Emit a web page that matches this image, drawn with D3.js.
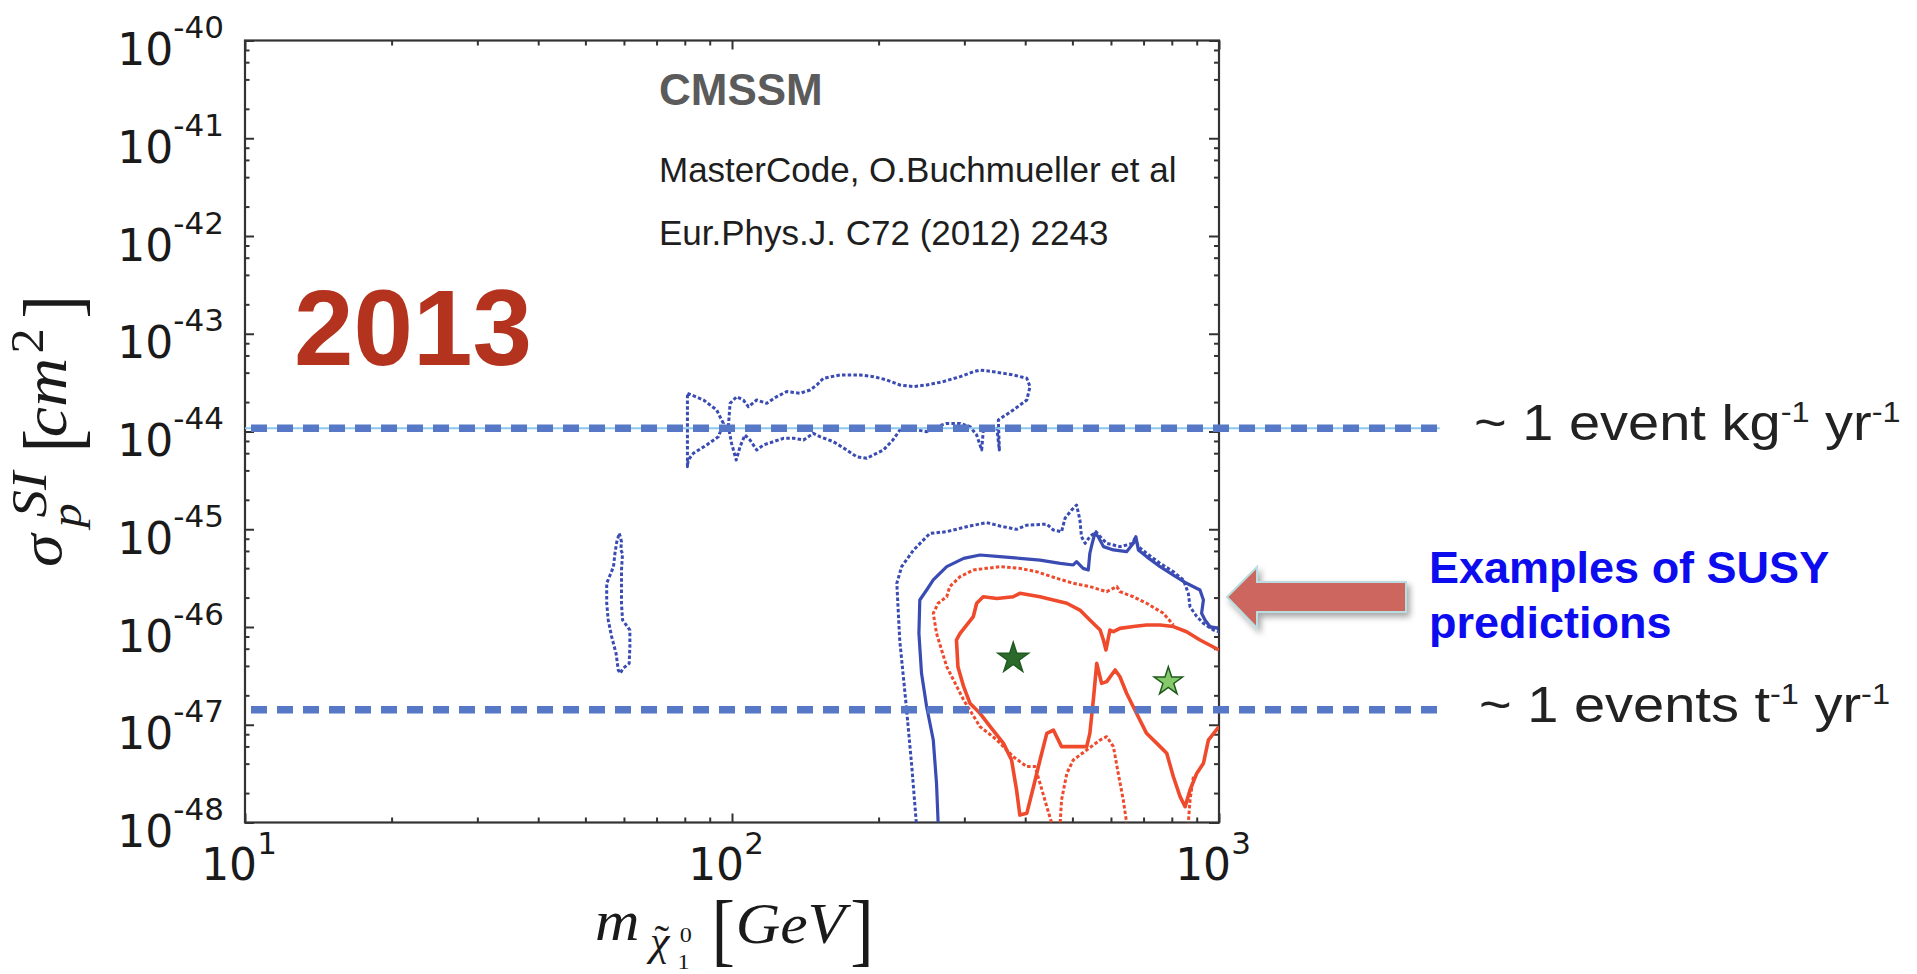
<!DOCTYPE html>
<html>
<head>
<meta charset="utf-8">
<script src="https://cdn.jsdelivr.net/npm/d3@7"></script>
<style>
  body { margin: 0; background: #fff; }
  svg { display: block; }
</style>
</head>
<body>
<div id="chart"></div>
<script>
// ---- data (mass in GeV, sigma in cm^2) ----
const massExponents = [1, 2, 3];
const sigmaExponents = [-40, -41, -42, -43, -44, -45, -46, -47, -48];
const xMinorFactors = [2, 3, 4, 5, 6, 7, 8, 9];
const yMinorFactors = [2, 4, 6, 8];

// dotted and solid contours
const blueDottedOuter = [
  [239, 1e-48], [234, 3.73e-48], [228, 1.53e-47], [221, 7.36e-47], [218, 2.80e-46], [223, 4.14e-46],
  [236, 6.14e-46], [255, 9.08e-46], [276, 9.44e-46], [303, 1.06e-45], [333, 1.17e-45], [355, 1.08e-45],
  [384, 9.98e-46], [403, 1.10e-45], [443, 1.13e-45], [457, 9.82e-46], [475, 9.44e-46], [483, 1.30e-45],
  [498, 1.57e-45], [510, 1.77e-45], [518, 1.25e-45], [522, 8.40e-46], [531, 7.18e-46], [543, 8.40e-46],
  [559, 9.44e-46], [570, 8.40e-46], [588, 7.18e-46], [626, 6.64e-46], [667, 7.18e-46], [672, 8.40e-46],
  [683, 6.64e-46], [710, 5.68e-46], [757, 4.48e-46], [806, 3.68e-46], [845, 3.03e-46], [865, 2.21e-46],
  [872, 1.61e-46], [900, 1.28e-46], [929, 1.09e-46], [974, 9.31e-47], [1000, 8.95e-47]
];

const blueSolid = [
  [265, 1e-48], [263, 2.52e-48], [259, 6.98e-48], [251, 1.53e-47], [245, 3.36e-47], [242, 8.61e-47],
  [243, 1.89e-46], [251, 2.39e-46], [259, 3.03e-46], [276, 4.14e-46], [299, 5.04e-46], [323, 5.45e-46],
  [355, 5.25e-46], [390, 5.04e-46], [429, 4.84e-46], [472, 4.48e-46], [502, 4.31e-46], [510, 4.66e-46],
  [526, 3.98e-46], [539, 3.83e-46], [543, 5.68e-46], [548, 6.90e-46], [556, 9.08e-46], [565, 8.40e-46],
  [579, 6.64e-46], [607, 6.14e-46], [646, 5.90e-46], [667, 7.18e-46], [675, 8.40e-46], [683, 6.14e-46],
  [710, 5.25e-46], [757, 4.14e-46], [806, 3.40e-46], [858, 2.80e-46], [914, 2.39e-46], [929, 1.89e-46],
  [921, 1.38e-46], [936, 1.18e-46], [958, 1.01e-46], [997, 9.68e-47]
];

const redDottedOuter = [
  [453, 1e-48], [443, 1.45e-48], [429, 2.52e-48], [419, 3.73e-48], [403, 3.73e-48], [378, 4.71e-48],
  [350, 6.98e-48], [323, 9.57e-48], [299, 1.79e-47], [276, 3.93e-47], [263, 8.61e-47], [259, 1.38e-46],
  [265, 1.75e-46], [276, 2.04e-46], [280, 2.59e-46], [294, 3.27e-46], [313, 3.83e-46], [333, 3.98e-46],
  [355, 4.14e-46], [390, 3.98e-46], [422, 3.68e-46], [464, 3.15e-46], [502, 2.80e-46], [543, 2.59e-46],
  [588, 2.30e-46], [617, 2.59e-46], [626, 2.30e-46], [667, 2.04e-46], [710, 1.75e-46], [769, 1.38e-46],
  [806, 1.05e-46]
];

const redDottedArch = [
  [472, 1e-48], [475, 1.70e-48], [487, 3.18e-48], [502, 4.36e-48], [535, 5.52e-48], [570, 6.98e-48],
  [588, 7.55e-48], [607, 5.97e-48], [621, 3.18e-48], [636, 1.70e-48], [646, 1e-48]
];

const redDottedTail = [[886, 2.94e-48], [872, 1.70e-48], [865, 1e-48]];

const redSolid = [
  [1000, 5.82e-47], [914, 7.36e-47], [858, 8.95e-47], [806, 1.01e-46], [757, 1.05e-46], [710, 1.05e-46],
  [667, 1.01e-46], [626, 9.68e-47], [607, 8.95e-47], [597, 9.31e-47], [586, 5.82e-47], [579, 7.36e-47],
  [570, 9.31e-47], [543, 1.18e-46], [518, 1.49e-46], [487, 1.75e-46], [457, 1.89e-46], [429, 2.04e-46],
  [390, 2.21e-46], [378, 2.04e-46], [350, 1.96e-46], [328, 2.04e-46], [318, 1.75e-46], [313, 1.28e-46],
  [294, 8.61e-47], [289, 7.36e-47], [291, 3.93e-47], [299, 2.45e-47], [308, 1.66e-47], [323, 1.31e-47],
  [339, 9.57e-48], [361, 6.45e-48], [375, 4.36e-48], [384, 2.15e-48], [390, 1.19e-48], [403, 1.24e-48],
  [416, 2.32e-48], [429, 4.36e-48], [443, 8.17e-48], [457, 8.83e-48], [475, 5.97e-48], [502, 5.97e-48],
  [535, 5.97e-48], [543, 8.17e-48], [552, 1.79e-47], [561, 4.25e-47], [574, 2.65e-47], [588, 2.76e-47],
  [612, 3.63e-47], [626, 3.10e-47], [646, 2.10e-47], [677, 1.31e-47], [710, 8.17e-48], [757, 5.97e-48],
  [781, 5.10e-48], [806, 2.94e-48], [832, 1.84e-48], [852, 1.45e-48], [872, 2.15e-48], [900, 3.18e-48],
  [929, 4.03e-48], [951, 6.98e-48], [1000, 9.57e-48]
];

const blueBlobD = [
  [81.0, 2.46e-44], [87.4, 2.10e-44], [93.0, 1.66e-44], [96.0, 1.21e-44], [93.8, 8.86e-45], [88.7, 7.28e-45],
  [83.3, 5.98e-45], [81.3, 5.11e-45], [81.0, 4.37e-45], [81.0, 2.46e-44]
];

const blueBlobMain = [
  [98.3, 1.12e-44], [99.1, 1.94e-44], [102.2, 2.27e-44], [105.5, 2.10e-44], [108.1, 1.79e-44], [112.4, 2.10e-44],
  [117.8, 1.94e-44], [123.5, 2.27e-44], [129.5, 2.56e-44], [138.0, 2.46e-44], [144.6, 2.66e-44], [149.3, 2.99e-44],
  [154.0, 3.50e-44], [166.7, 3.79e-44], [183, 3.79e-44], [195.1, 3.64e-44], [207.8, 3.37e-44], [221.3, 2.99e-44],
  [235.7, 2.88e-44], [251, 2.99e-44], [271.6, 3.24e-44], [294, 3.64e-44], [313.1, 4.09e-44], [323.1, 4.25e-44],
  [344, 4.09e-44], [378.2, 3.79e-44], [403, 3.50e-44], [409.2, 2.88e-44], [403, 2.10e-44], [378, 1.66e-44],
  [360.7, 1.42e-44], [352.3, 1.31e-44], [354.0, 6.47e-45], [349.5, 1.12e-44], [328.2, 1.04e-44], [325.6, 6.47e-45],
  [318.0, 9.21e-45], [308.2, 1.12e-44], [294, 1.21e-44], [276, 1.21e-44], [263.3, 1.12e-44], [251, 9.96e-45],
  [239.5, 1.04e-44], [228.5, 1.12e-44], [221.3, 1.04e-44], [214, 8.19e-45], [204.6, 6.47e-45], [189.1, 5.32e-45],
  [180.3, 5.52e-45], [172.0, 6.47e-45], [161.5, 7.87e-45], [151.6, 8.86e-45], [146.9, 9.57e-45], [140.2, 8.19e-45],
  [134, 8.51e-45], [127.5, 8.51e-45], [121.6, 7.87e-45], [116.0, 7.28e-45], [112.4, 6.47e-45], [108.9, 8.19e-45],
  [106.3, 9.21e-45], [103.9, 7.00e-45], [102.0, 5.11e-45], [99.8, 7.56e-45], [98.3, 1.12e-44]
];

const blueSmall = [
  [58.7, 9.08e-46], [59.3, 7.46e-46], [59.1, 6.14e-46], [59.6, 5.67e-46], [59.3, 3.83e-46], [59.3, 2.59e-46],
  [59.3, 1.75e-46], [59.6, 1.18e-46], [61.7, 9.31e-47], [61.7, 6.29e-47], [61.5, 4.25e-47], [59.8, 3.78e-47],
  [58.9, 3.36e-47], [58.4, 3.63e-47], [57.8, 5.38e-47], [56.6, 7.96e-47], [55.7, 1.18e-46], [55.3, 1.75e-46],
  [55.3, 2.80e-46], [56.2, 3.40e-46], [57.1, 4.14e-46], [57.5, 5.67e-46], [58.0, 7.46e-46], [58.7, 9.08e-46]
];

// best fit points
const starMass = [378, 787];
const starSigma = [4.78e-47, 2.76e-47];
const starFill = ["#2b6a2b", "#86c96a"];
const starSize = [290, 250];

// event-rate reference lines
const eventSigma = [1.08e-44, 1.42e-47];
const eventLineMass = [10, 2840];
const eventUnit = ["kg", "t"];
const eventWord = ["event", "events"];

// ---- layout ----
const W = 1917, H = 974;
const plot = {left: 245, right: 1219, top: 40.5, bottom: 822.5};

const svg = d3.select("#chart").append("svg")
  .attr("width", W).attr("height", H);
const defs = svg.append("defs");

const x = d3.scaleLog().domain([10, 1000]).range([plot.left, plot.right]);
const y = d3.scaleLog().domain([1e-48, 1e-40]).range([plot.bottom, plot.top]);

const line = d3.line().x(d => x(d[0])).y(d => y(d[1]));

defs.append("clipPath").attr("id", "plotclip")
  .append("rect")
  .attr("x", plot.left).attr("y", plot.top)
  .attr("width", plot.right - plot.left).attr("height", plot.bottom - plot.top);

// ticks on all four sides, pointing inward
const majorX = massExponents.map(e => Math.pow(10, e));
const minorX = [];
[10, 100].forEach(d => xMinorFactors.forEach(k => minorX.push(k * d)));
const majorY = sigmaExponents.map(e => Math.pow(10, e));
const minorY = [];
sigmaExponents.slice(1).forEach(e => yMinorFactors.forEach(k => minorY.push(k * Math.pow(10, e))));

function tickAxis(axis, values, size, transform) {
  const g = svg.append("g")
    .attr("transform", transform)
    .call(axis.tickValues(values).tickSize(size).tickFormat(""));
  g.select(".domain").remove();
  g.selectAll(".tick line").attr("stroke", "#333").attr("stroke-width", 2);
}

tickAxis(d3.axisBottom(x), majorX, -9, `translate(0,${plot.bottom})`);
tickAxis(d3.axisBottom(x), minorX, -5, `translate(0,${plot.bottom})`);
tickAxis(d3.axisTop(x), majorX, -9, `translate(0,${plot.top})`);
tickAxis(d3.axisTop(x), minorX, -5, `translate(0,${plot.top})`);
tickAxis(d3.axisLeft(y), majorY, -9, `translate(${plot.left},0)`);
tickAxis(d3.axisLeft(y), minorY, -4.5, `translate(${plot.left},0)`);
tickAxis(d3.axisRight(y), majorY, -10, `translate(${plot.right},0)`);
tickAxis(d3.axisRight(y), minorY, -5, `translate(${plot.right},0)`);

svg.append("rect")
  .attr("x", plot.left).attr("y", plot.top)
  .attr("width", plot.right - plot.left).attr("height", plot.bottom - plot.top)
  .attr("fill", "none").attr("stroke", "#333").attr("stroke-width", 2.2);

// tick labels 10^n
const tickFont = "DejaVu Sans";
sigmaExponents.forEach(e => {
  const t = svg.append("text")
    .attr("x", 224).attr("y", y(Math.pow(10, e)) + 24.5)
    .attr("text-anchor", "end")
    .attr("font-family", tickFont).attr("fill", "#1a1a1a");
  t.append("tspan").attr("font-size", 44).text("10");
  t.append("tspan").attr("font-size", 31).attr("dy", -27).text(String(e));
});
massExponents.forEach(e => {
  const t = svg.append("text")
    .attr("x", x(Math.pow(10, e)) - 6).attr("y", plot.bottom + 57.5)
    .attr("text-anchor", "middle")
    .attr("font-family", tickFont).attr("fill", "#1a1a1a");
  t.append("tspan").attr("font-size", 44).text("10");
  t.append("tspan").attr("font-size", 31).attr("dy", -26).text(e);
});

// axis titles: math-style pieces, slightly stretched along the text direction
const serif = "Liberation Serif";
function mathLabel(base, parts) {
  const g = svg.append("g").attr("transform", base)
    .attr("font-family", serif).attr("fill", "#1a1a1a");
  parts.forEach(p => {
    const [str, px, py, size, italic, sy] = p;
    g.append("text")
      .attr("transform", `translate(${px},${py}) scale(1,${sy || 1})`)
      .attr("font-size", size)
      .attr("font-style", italic ? "italic" : "normal")
      .text(str);
  });
}
mathLabel("translate(63,567) rotate(-90) scale(1.1,1)", [
  ["σ", 0, -2, 60, true],
  ["p", 36, 18, 44, true],
  ["SI", 45, -17, 50, true],
  ["[", 104, 16, 64, false, 1.25],
  ["cm", 118, 3, 62, true],
  ["2", 194, -20, 46, false],
  ["]", 226, 16, 64, false, 1.25]
]);
mathLabel("translate(595,940) scale(1.1,1)", [
  ["m", 0, 0, 56, true],
  ["χ", 50, 15, 40, true],
  ["˜", 54, 13, 40, false],
  ["0", 77, 2, 22, false],
  ["1", 75, 29, 22, false],
  ["[", 106, 16, 64, false, 1.25],
  ["GeV", 128, 3, 56, true],
  ["]", 232, 16, 64, false, 1.25]
]);

// contours
const contours = svg.append("g").attr("clip-path", "url(#plotclip)")
  .attr("fill", "none").attr("stroke-linejoin", "round");

const blue = "#3a4cb3", red = "#ef4a2c";
[blueDottedOuter, blueBlobD, blueBlobMain, blueSmall].forEach(d => {
  contours.append("path").datum(d).attr("d", line)
    .attr("stroke", blue).attr("stroke-width", 3).attr("stroke-dasharray", "3.5,2.2");
});
contours.append("path").datum(blueSolid).attr("d", line)
  .attr("stroke", blue).attr("stroke-width", 3.2);
[redDottedOuter, redDottedArch, redDottedTail].forEach(d => {
  contours.append("path").datum(d).attr("d", line)
    .attr("stroke", red).attr("stroke-width", 3).attr("stroke-dasharray", "3.5,2.2");
});
contours.append("path").datum(redSolid).attr("d", line)
  .attr("stroke", red).attr("stroke-width", 3.6);

// stars
starMass.forEach((m, i) => {
  svg.append("path")
    .attr("d", d3.symbol(d3.symbolStar, starSize[i])())
    .attr("transform", `translate(${x(m)},${y(starSigma[i])})`)
    .attr("fill", starFill[i]).attr("stroke", "#1f5a1f").attr("stroke-width", 1.5);
});

// event-rate lines
const hline = d3.line().x(d => x(d)).y(() => 0);
eventSigma.forEach((s, i) => {
  const g = svg.append("g").attr("transform", `translate(0,${y(s)})`);
  if (i === 0) {
    g.append("path").attr("d", hline(eventLineMass))
      .attr("stroke", "#8cc8ee").attr("stroke-width", 2);
  }
  g.append("path").attr("d", hline(eventLineMass))
    .attr("stroke", "#5678c6").attr("stroke-width", 7.5)
    .attr("stroke-dasharray", "16,10").attr("stroke-dashoffset", -6);

  const t = svg.append("text")
    .attr("transform", `translate(${i === 0 ? 1474 : 1479},${y(s) + 12}) scale(1.12,1)`)
    .attr("font-family", "Liberation Sans").attr("font-size", 50).attr("fill", "#222");
  t.append("tspan").text(`~ 1 ${eventWord[i]} ${eventUnit[i]}`);
  t.append("tspan").attr("font-size", 29).attr("dy", -18).text("-1");
  t.append("tspan").attr("dy", 18).text(" yr");
  t.append("tspan").attr("font-size", 29).attr("dy", -18).text("-1");
});

// in-plot annotations
svg.append("text").attr("x", 294).attr("y", 365)
  .attr("font-family", "Liberation Sans").attr("font-weight", "bold")
  .attr("font-size", 107).attr("fill", "#b3331f").text("2013");
svg.append("text").attr("x", 659).attr("y", 105)
  .attr("font-family", "Liberation Sans").attr("font-weight", "bold")
  .attr("font-size", 44).attr("fill", "#5b5b5b").text("CMSSM");
svg.append("text").attr("x", 659).attr("y", 182)
  .attr("font-family", "Liberation Sans").attr("font-size", 35).attr("fill", "#1e1e1e")
  .text("MasterCode, O.Buchmueller et al");
svg.append("text").attr("x", 659).attr("y", 245)
  .attr("font-family", "Liberation Sans").attr("font-size", 35).attr("fill", "#1e1e1e")
  .text("Eur.Phys.J. C72 (2012) 2243");

// arrow + callout
const f = defs.append("filter").attr("id", "shadow").attr("x", "-20%").attr("y", "-30%")
  .attr("width", "150%").attr("height", "180%");
f.append("feDropShadow").attr("dx", 3).attr("dy", 4).attr("stdDeviation", 3)
  .attr("flood-color", "#000").attr("flood-opacity", 0.35);

svg.append("path")
  .attr("d", "M1227,597 L1257,567 L1257,582 L1406,582 L1406,612 L1257,612 L1257,628 Z")
  .attr("fill", "#cd665f").attr("stroke", "#b9dde0").attr("stroke-width", 2)
  .attr("filter", "url(#shadow)");

const callout = svg.append("text")
  .attr("font-family", "Liberation Sans").attr("font-weight", "bold")
  .attr("font-size", 45).attr("fill", "#0c0cee");
callout.append("tspan").attr("x", 1429).attr("y", 583).text("Examples of SUSY");
callout.append("tspan").attr("x", 1429).attr("y", 638).text("predictions");
</script>
</body>
</html>
